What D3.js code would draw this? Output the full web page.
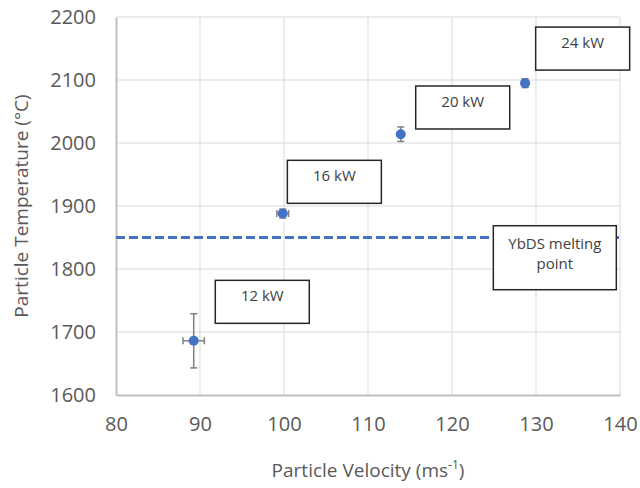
<!DOCTYPE html>
<html>
<head>
<meta charset="utf-8">
<script src="https://cdn.jsdelivr.net/npm/d3@7"></script>
<style>
  body { margin: 0; background: #fff; }
  text { font-family: "Open Sans", sans-serif; }
</style>
</head>
<body>
<svg id="chart" width="640" height="488"></svg>
<script>
var velocity = [89.25, 99.85, 113.9, 128.7];
var temperature = [1686, 1888, 2014, 2095];
var velocityErr = [1.27, 0.7, 0.3, 0.3];
var temperatureErr = [43, 7, 11.5, 7];

var xTicks = [80, 90, 100, 110, 120, 130, 140];
var yTicks = [1600, 1700, 1800, 1900, 2000, 2100, 2200];

var meltingPoint = 1850;

var labelText = ["12 kW", "16 kW", "20 kW", "24 kW"];
var labelVelocity = [91.82, 100.4, 115.68, 129.96];
var labelTemperature = [1782, 1972.5, 2090.5, 2184];

var svg = d3.select("#chart");

var x = d3.scaleLinear().domain([80, 140]).range([116, 620]);
var y = d3.scaleLinear().domain([1600, 2200]).range([395, 17]);

// gridlines
svg.append("g").selectAll("line").data(xTicks.slice(1))
  .enter().append("line")
  .attr("x1", d => x(d)).attr("x2", d => x(d))
  .attr("y1", y(1600)).attr("y2", y(2200))
  .attr("stroke", "#d9d9d9").attr("stroke-width", 1);

svg.append("g").selectAll("line").data(yTicks.slice(1))
  .enter().append("line")
  .attr("x1", x(80)).attr("x2", x(140))
  .attr("y1", d => y(d)).attr("y2", d => y(d))
  .attr("stroke", "#d9d9d9").attr("stroke-width", 1);

// axes
var xAxis = svg.append("g")
  .attr("transform", "translate(0," + y(1600) + ")")
  .call(d3.axisBottom(x).tickValues(xTicks).tickFormat(d3.format("d")).tickSize(0).tickPadding(22));
var yAxis = svg.append("g")
  .attr("transform", "translate(" + x(80) + ",0)")
  .call(d3.axisLeft(y).tickValues(yTicks).tickFormat(d3.format("d")).tickSize(0).tickPadding(20));

[xAxis, yAxis].forEach(function(a) {
  a.select(".domain").attr("stroke", "#bfbfbf").attr("stroke-width", 2);
  a.selectAll("text").attr("fill", "#595959").style("font-size", "20px")
    .style("font-family", "'Open Sans', sans-serif");
});

svg.append("text")
  .attr("x", 368).attr("y", 477)
  .attr("text-anchor", "middle")
  .attr("fill", "#595959").style("font-size", "19px")
  .text("Particle Velocity (ms")
  .append("tspan").attr("dy", -8).style("font-size", "12px").text("-1")
  .select(function() { return this.parentNode; })
  .append("tspan").attr("dy", 8).text(")");

svg.append("text")
  .attr("transform", "translate(28," + y(1900) + ") rotate(-90)")
  .attr("text-anchor", "middle")
  .attr("fill", "#595959").style("font-size", "19px")
  .text("Particle Temperature (°C)");

// melting point line
svg.append("line")
  .attr("x1", x(80)).attr("x2", x(140))
  .attr("y1", y(meltingPoint)).attr("y2", y(meltingPoint))
  .attr("stroke", "#4472c4").attr("stroke-width", 3)
  .attr("stroke-dasharray", "9,4");

// error bars
var pts = velocity.map(function(v, i) {
  return { x: v, y: temperature[i], ex: velocityErr[i], ey: temperatureErr[i] };
});

var err = svg.append("g").attr("stroke", "#808080").attr("stroke-width", 1.5);
pts.forEach(function(p) {
  err.append("line")
    .attr("x1", x(p.x)).attr("x2", x(p.x))
    .attr("y1", y(p.y - p.ey)).attr("y2", y(p.y + p.ey));
  err.append("line")
    .attr("x1", x(p.x - p.ex)).attr("x2", x(p.x + p.ex))
    .attr("y1", y(p.y)).attr("y2", y(p.y));
  [p.y - p.ey, p.y + p.ey].forEach(function(v) {
    err.append("line")
      .attr("x1", x(p.x) - 3.5).attr("x2", x(p.x) + 3.5)
      .attr("y1", y(v)).attr("y2", y(v));
  });
  [p.x - p.ex, p.x + p.ex].forEach(function(v) {
    err.append("line")
      .attr("x1", x(v)).attr("x2", x(v))
      .attr("y1", y(p.y) - 3.5).attr("y2", y(p.y) + 3.5);
  });
});

svg.append("g").selectAll("circle").data(pts)
  .enter().append("circle")
  .attr("cx", d => x(d.x)).attr("cy", d => y(d.y))
  .attr("r", 5).attr("fill", "#4472c4");

// text boxes
function textBox(lines, vx, vy, w, h, top) {
  var g = svg.append("g")
    .attr("transform", "translate(" + x(vx) + "," + y(vy) + ")");
  g.append("rect")
    .attr("width", w).attr("height", h)
    .attr("fill", "#fff").attr("stroke", "#262626").attr("stroke-width", 1.5);
  lines.forEach(function(t, i) {
    g.append("text")
      .attr("x", w / 2).attr("y", top + i * 20)
      .attr("text-anchor", "middle")
      .attr("fill", "#404040").style("font-size", "15px")
      .text(t);
  });
}

labelText.forEach(function(t, i) {
  textBox([t], labelVelocity[i], labelTemperature[i], 94, 43, 21);
});
textBox(["YbDS melting", "point"], 124.92, 1868.7, 123, 64, 23);
</script>
</body>
</html>
